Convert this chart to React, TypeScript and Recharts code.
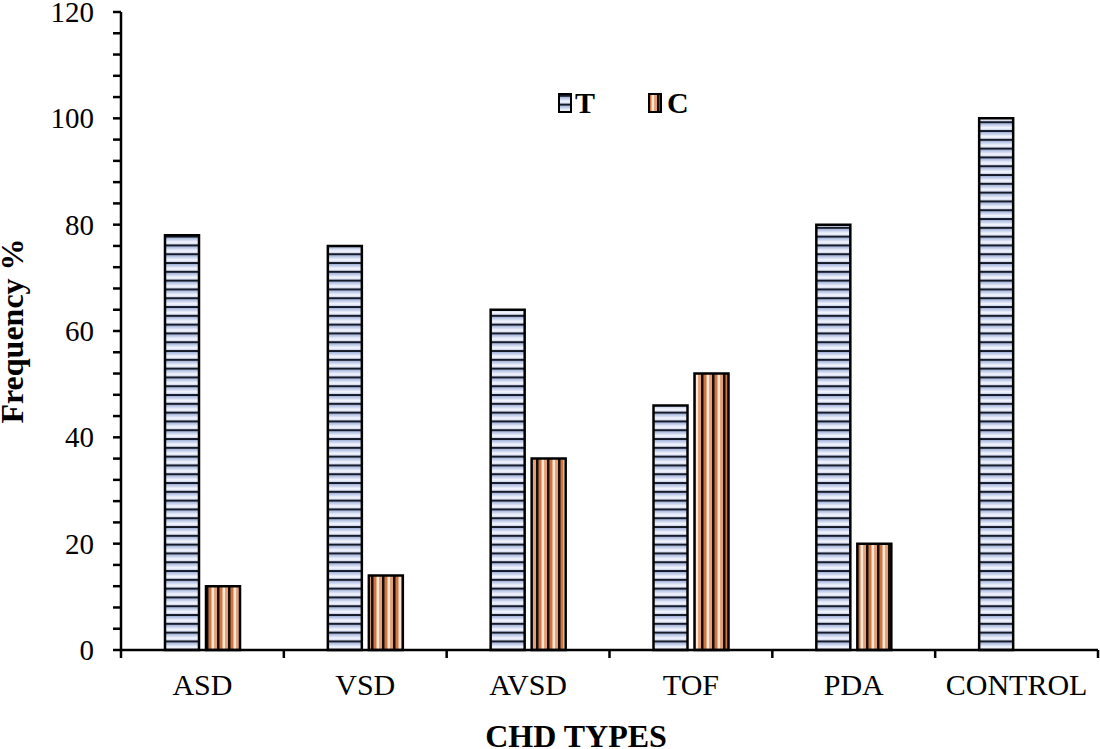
import React from 'react';
import { BarChart, Bar, XAxis, YAxis } from 'recharts';

const categories = ['ASD', 'VSD', 'AVSD', 'TOF', 'PDA', 'CONTROL'];
const tValues = [78, 76, 64, 46, 80, 100];
const cValues: (number | null)[] = [12, 14, 36, 52, 20, null];
const yTicks = [0, 4, 8, 12, 16, 20, 24, 28, 32, 36, 40, 44, 48, 52, 56, 60, 64, 68, 72, 76, 80, 84, 88, 92, 96, 100, 104, 108, 112, 116, 120];
const yLabelTicks = [0, 20, 40, 60, 80, 100, 120];
const seriesNames = ['T', 'C'];
const xTitle = 'CHD TYPES';
const yTitle = 'Frequency %';

const W = 1100;
const H = 749;
const MARGIN = { top: 12, right: 2, bottom: 0, left: 0 };
const Y_AXIS_W = 121;
const X_AXIS_H = 99;
const PLOT_W = W - MARGIN.left - MARGIN.right - Y_AXIS_W;
const BAND = PLOT_W / categories.length;

const data = categories.map((name, i) => ({ name, T: tValues[i], C: cValues[i] }));

const FONT = '"Liberation Serif", "Times New Roman", serif';
const AXIS_STROKE = { stroke: '#000', strokeWidth: 2.5 };

function YTick(props: any) {
  const { x, y, payload } = props;
  if (!yLabelTicks.includes(payload.value)) return <g />;
  return (
    <text x={x} y={y} textAnchor="end" dominantBaseline="central" fontFamily={FONT} fontSize={29} fill="#000">
      {payload.value}
    </text>
  );
}

function XTick(props: any) {
  const { x, y, payload, index } = props;
  const half = BAND / 2;
  return (
    <g>
      {index === 0 && <line x1={x - half} x2={x - half} y1={y} y2={y + 8} stroke="#000" strokeWidth={2.5} />}
      <line x1={x + half} x2={x + half} y1={y} y2={y + 8} stroke="#000" strokeWidth={2.5} />
      <text x={x} y={y + 45} textAnchor="middle" fontFamily={FONT} fontSize={30} fill="#000">
        {payload.value}
      </text>
    </g>
  );
}

function Defs() {
  return (
    <svg width={0} height={0} style={{ position: 'absolute' }}>
      <defs>
        <linearGradient id="gT" x1="0" y1="0" x2="0" y2="1">
          <stop offset="0" stopColor="#9fb0da" />
          <stop offset="0.5" stopColor="#f3f5fd" />
          <stop offset="1" stopColor="#c0cbec" />
        </linearGradient>
        <pattern id="pT" patternUnits="userSpaceOnUse" width="10" height="8.8">
          <rect x="0" y="0" width="10" height="8.8" fill="url(#gT)" />
          <rect x="0" y="6.8" width="10" height="2" fill="#151b28" />
        </pattern>
        <pattern id="pC" patternUnits="userSpaceOnUse" width="11" height="10">
          <rect x="0" y="0" width="11" height="10" fill="#cf7640" />
          <rect x="2.5" y="0" width="3" height="10" fill="#fde8d8" />
          <rect x="5.5" y="0" width="2.5" height="10" fill="#e4a072" />
          <rect x="8" y="0" width="2.5" height="10" fill="#140e0a" />
        </pattern>
      </defs>
    </svg>
  );
}

export default function App() {
  return (
    <div style={{ position: 'absolute', left: 0, top: 0, width: W, height: H, background: '#fff' }}>
      <Defs />
      <BarChart width={W} height={H} data={data} margin={MARGIN} barGap={7} barCategoryGap={0}>
        <XAxis
          dataKey="name"
          height={X_AXIS_H}
          axisLine={AXIS_STROKE}
          tickLine={false}
          tickSize={0}
          tickMargin={0}
          interval={0}
          tick={<XTick />}
        />
        <XAxis xAxisId="top" dataKey="name" orientation="top" height={0} axisLine={AXIS_STROKE} tickLine={false} tick={false} />
        <YAxis
          domain={[0, 120]}
          ticks={yTicks}
          interval={0}
          width={Y_AXIS_W}
          axisLine={AXIS_STROKE}
          tickLine={AXIS_STROKE}
          tickSize={8}
          tickMargin={19}
          tick={<YTick />}
        />
        <YAxis yAxisId="r" orientation="right" domain={[0, 120]} width={0} axisLine={AXIS_STROKE} tickLine={false} tick={false} />
        <Bar dataKey="T" name={seriesNames[0]} fill="url(#pT)" stroke="#000" strokeWidth={2.5} barSize={34} isAnimationActive={false} />
        <Bar dataKey="C" name={seriesNames[1]} fill="url(#pC)" stroke="#000" strokeWidth={2.5} barSize={34} isAnimationActive={false} />
      </BarChart>
      <svg width={W} height={H} style={{ position: 'absolute', left: 0, top: 0, pointerEvents: 'none' }}>
        <text
          transform="translate(23,331) rotate(-90)"
          textAnchor="middle"
          fontFamily={FONT}
          fontWeight="bold"
          fontSize={32}
          fill="#000"
        >
          {yTitle}
        </text>
        <text x={576} y={747} textAnchor="middle" fontFamily={FONT} fontWeight="bold" fontSize={32} fill="#000">
          {xTitle}
        </text>
        <rect x={559} y={94} width={12} height={18} fill="url(#pT)" stroke="#000" strokeWidth={2} />
        <text x={575} y={113} fontFamily={FONT} fontWeight="bold" fontSize={30} fill="#000">{seriesNames[0]}</text>
        <rect x={649} y={94} width={12} height={18} fill="url(#pC)" stroke="#000" strokeWidth={2} />
        <text x={667} y={113} fontFamily={FONT} fontWeight="bold" fontSize={30} fill="#000">{seriesNames[1]}</text>
      </svg>
    </div>
  );
}
